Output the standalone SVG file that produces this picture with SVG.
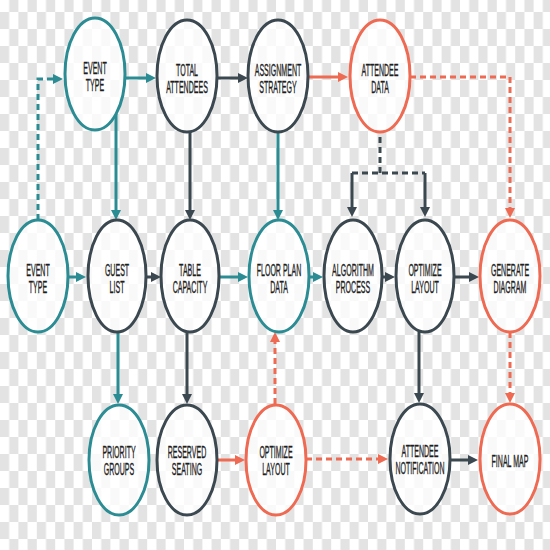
<svg xmlns="http://www.w3.org/2000/svg" width="550" height="550" viewBox="0 0 550 550">
  <defs>
    <pattern id="checker" x="0" y="-5" width="18.4" height="34" patternUnits="userSpaceOnUse">
      <rect x="0" y="0" width="18.4" height="34" fill="#ffffff"/>
      <rect x="9.2" y="0" width="9.2" height="17" fill="#e3e3e3"/>
      <rect x="0" y="17" width="9.2" height="17" fill="#e3e3e3"/>
    </pattern>
    <marker id="ah-teal" viewBox="0 0 10 10" refX="6" refY="5" markerWidth="10" markerHeight="12" markerUnits="userSpaceOnUse" orient="auto">
      <path d="M0,0 L10,5 L0,10 z" fill="#2b8c93"/>
    </marker>
    <marker id="ah-dark" viewBox="0 0 10 10" refX="6" refY="5" markerWidth="10" markerHeight="12" markerUnits="userSpaceOnUse" orient="auto">
      <path d="M0,0 L10,5 L0,10 z" fill="#3b4850"/>
    </marker>
    <marker id="ah-orange" viewBox="0 0 10 10" refX="6" refY="5" markerWidth="10" markerHeight="12" markerUnits="userSpaceOnUse" orient="auto">
      <path d="M0,0 L10,5 L0,10 z" fill="#ee6a52"/>
    </marker>
  </defs>
  <style>
    .node ellipse { fill: #ffffff; fill-opacity: 0.78; stroke-width: 3; }
    .teal ellipse { stroke: #2b8c93; }
    .dark ellipse { stroke: #3b4850; }
    .orange ellipse { stroke: #ee6a52; }
    .lbl { font-family: "Liberation Sans", Arial, sans-serif; font-size: 16px; fill: #1e1e1e; stroke: #1e1e1e; stroke-width: 0.35; text-anchor: middle; }
    .c { fill: none; stroke-width: 3; }
    .ct { stroke: #2b8c93; marker-end: url(#ah-teal); }
    .cd { stroke: #3b4850; marker-end: url(#ah-dark); }
    .co { stroke: #ee6a52; marker-end: url(#ah-orange); }
    .dash { stroke-dasharray: 6 4; }
  </style>

  <rect x="0" y="0" width="550" height="550" fill="url(#checker)"/>

  <g id="connectors">
    <path class="c ct dash" d="M38,220 V79 H59"/>
    <path class="c ct" d="M125,78 H152"/>
    <path class="c cd" d="M217,78 H244"/>
    <path class="c co" d="M308,77 H344"/>
    <path class="c co dash" d="M410,77 H510 V214"/>
    <path class="c dash" stroke="#3b4850" d="M380,137 V173 M352,173 H425"/>
    <path class="c cd" d="M352,173 V213"/>
    <path class="c cd" d="M425,173 V213"/>
    <path class="c ct" d="M116,114 V216"/>
    <path class="c cd" d="M190,132 V216"/>
    <path class="c ct" d="M278,132 V216"/>
    <path class="c ct" d="M68,277 H82"/>
    <path class="c cd" d="M146,277 H157"/>
    <path class="c ct" d="M219,277 H244"/>
    <path class="c ct" d="M308,277 H319"/>
    <path class="c cd" d="M382,277 H391"/>
    <path class="c cd" d="M455,277 H475"/>
    <path class="c ct" d="M118,332 V400"/>
    <path class="c cd" d="M187,332 V400"/>
    <path class="c co dash" d="M275,404 V336"/>
    <path class="c cd" d="M419,332 V399"/>
    <path class="c co dash" d="M510,332 V399"/>
    <path class="c co" d="M217,460 H241"/>
    <path class="c co dash" d="M306,459 H384"/>
    <path class="c cd" d="M450,460 H474"/>
  </g>

  <g id="event-type-top" class="node teal">
    <ellipse cx="95" cy="74" rx="30" ry="56"/>
    <text class="lbl" transform="translate(95,74) scale(0.44,1)">EVENT</text>
    <text class="lbl" transform="translate(95,91) scale(0.44,1)">TYPE</text>
  </g>
  <g id="total-attendees" class="node dark">
    <ellipse cx="187" cy="76" rx="30" ry="56"/>
    <text class="lbl" transform="translate(187,76) scale(0.44,1)">TOTAL</text>
    <text class="lbl" transform="translate(187,93) scale(0.44,1)">ATTENDEES</text>
  </g>
  <g id="assignment-strategy" class="node dark">
    <ellipse cx="278" cy="76" rx="30" ry="56"/>
    <text class="lbl" transform="translate(278,76) scale(0.44,1)">ASSIGNMENT</text>
    <text class="lbl" transform="translate(278,93) scale(0.44,1)">STRATEGY</text>
  </g>
  <g id="attendee-data" class="node orange">
    <ellipse cx="380" cy="76" rx="30" ry="56"/>
    <text class="lbl" transform="translate(380,76) scale(0.44,1)">ATTENDEE</text>
    <text class="lbl" transform="translate(380,93) scale(0.44,1)">DATA</text>
  </g>

  <g id="event-type-mid" class="node teal">
    <ellipse cx="38" cy="276" rx="30" ry="56"/>
    <text class="lbl" transform="translate(38,276) scale(0.44,1)">EVENT</text>
    <text class="lbl" transform="translate(38,293) scale(0.44,1)">TYPE</text>
  </g>
  <g id="guest-list" class="node dark">
    <ellipse cx="117" cy="276" rx="29" ry="56"/>
    <text class="lbl" transform="translate(117,276) scale(0.44,1)">GUEST</text>
    <text class="lbl" transform="translate(117,293) scale(0.44,1)">LIST</text>
  </g>
  <g id="table-capacity" class="node dark">
    <ellipse cx="190" cy="276" rx="29" ry="56"/>
    <text class="lbl" transform="translate(190,276) scale(0.44,1)">TABLE</text>
    <text class="lbl" transform="translate(190,293) scale(0.44,1)">CAPACITY</text>
  </g>
  <g id="floor-plan-data" class="node teal">
    <ellipse cx="279" cy="276" rx="30" ry="56"/>
    <text class="lbl" transform="translate(279,276) scale(0.44,1)">FLOOR PLAN</text>
    <text class="lbl" transform="translate(279,293) scale(0.44,1)">DATA</text>
  </g>
  <g id="algorithm-process" class="node dark">
    <ellipse cx="353" cy="276" rx="29" ry="56"/>
    <text class="lbl" transform="translate(353,276) scale(0.44,1)">ALGORITHM</text>
    <text class="lbl" transform="translate(353,293) scale(0.44,1)">PROCESS</text>
  </g>
  <g id="optimize-layout-mid" class="node dark">
    <ellipse cx="425" cy="276" rx="29" ry="56"/>
    <text class="lbl" transform="translate(425,276) scale(0.44,1)">OPTIMIZE</text>
    <text class="lbl" transform="translate(425,293) scale(0.44,1)">LAYOUT</text>
  </g>
  <g id="generate-diagram" class="node orange">
    <ellipse cx="510" cy="276" rx="30" ry="56"/>
    <text class="lbl" transform="translate(510,276) scale(0.44,1)">GENERATE</text>
    <text class="lbl" transform="translate(510,293) scale(0.44,1)">DIAGRAM</text>
  </g>

  <g id="priority-groups" class="node teal">
    <ellipse cx="119" cy="460" rx="30" ry="55"/>
    <text class="lbl" transform="translate(119,458) scale(0.44,1)">PRIORITY</text>
    <text class="lbl" transform="translate(119,475) scale(0.44,1)">GROUPS</text>
  </g>
  <g id="reserved-seating" class="node dark">
    <ellipse cx="187" cy="460" rx="30" ry="55"/>
    <text class="lbl" transform="translate(187,458) scale(0.44,1)">RESERVED</text>
    <text class="lbl" transform="translate(187,475) scale(0.44,1)">SEATING</text>
  </g>
  <g id="optimize-layout-bottom" class="node orange">
    <ellipse cx="276" cy="460" rx="30" ry="55"/>
    <text class="lbl" transform="translate(276,458) scale(0.44,1)">OPTIMIZE</text>
    <text class="lbl" transform="translate(276,475) scale(0.44,1)">LAYOUT</text>
  </g>
  <g id="attendee-notification" class="node dark">
    <ellipse cx="420" cy="459" rx="30" ry="55"/>
    <text class="lbl" transform="translate(420,457) scale(0.44,1)">ATTENDEE</text>
    <text class="lbl" transform="translate(420,474) scale(0.44,1)">NOTIFICATION</text>
  </g>
  <g id="final-map" class="node orange">
    <ellipse cx="510" cy="459" rx="30" ry="55"/>
    <text class="lbl" transform="translate(510,467) scale(0.44,1)">FINAL MAP</text>
  </g>
</svg>
